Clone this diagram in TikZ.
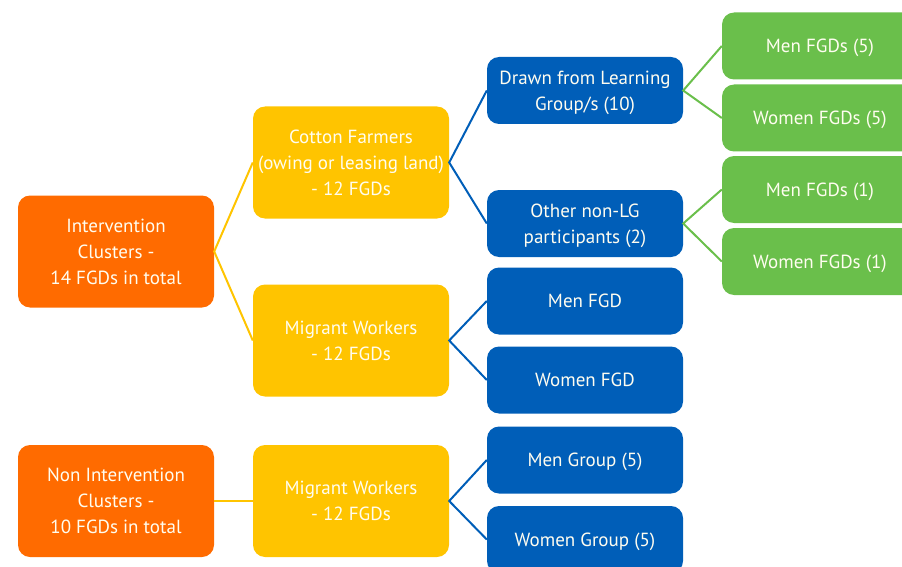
\documentclass[tikz,border=0pt]{standalone}
\usepackage{fontspec}
\setmainfont{PT Sans}
\definecolor{corange}{HTML}{FF6B00}
\definecolor{cyellow}{HTML}{FFC400}
\definecolor{cblue}{HTML}{005EB8}
\definecolor{cgreen}{HTML}{6ABF4B}
\definecolor{ctext}{HTML}{FFFDF0}
\tikzset{
  box/.style={rectangle, rounded corners=12pt, minimum width=196pt, text=ctext,
    align=center, inner sep=0pt, font=\fontsize{19}{26}\selectfont,
    text depth=-1pt},
  obox/.style={box, fill=corange, minimum height=112pt},
  ybox/.style={box, fill=cyellow, minimum height=112pt},
  bbox/.style={box, fill=cblue, minimum height=67pt},
  gbox/.style={box, fill=cgreen, minimum height=67pt},
  link/.style={line width=2pt},
}
\begin{document}
\begin{tikzpicture}[x=1pt,y=-1pt]
\useasboundingbox (0,0) rectangle (902,567);
\clip (0,0) rectangle (902,567);
\node[obox] (int) at (116,251.5) {Intervention\\Clusters -\\14 FGDs in total};
\node[obox] (nonint) at (116,501) {Non Intervention\\Clusters -\\10 FGDs in total};
\node[ybox] (cotton) at (351,162.5) {Cotton Farmers\\(owing or leasing land)\\- 12 FGDs};
\node[ybox] (mig1) at (351,340.5) {Migrant Workers\\- 12 FGDs};
\node[ybox] (mig2) at (351,501) {Migrant Workers\\- 12 FGDs};
\node[bbox] (drawn) at (585,90.5) {Drawn from Learning\\Group/s (10)};
\node[bbox] (other) at (585,223.5) {Other non-LG\\participants (2)};
\node[bbox] (menfgd) at (585,301) {Men FGD};
\node[bbox] (womenfgd) at (585,380) {Women FGD};
\node[bbox] (mengroup) at (585,460) {Men Group (5)};
\node[bbox] (womengroup) at (585,539.5) {Women Group (5)};
\node[gbox] (men5) at (820,46) {Men FGDs (5)};
\node[gbox] (women5) at (820,118) {Women FGDs (5)};
\node[gbox] (men1) at (820,189.5) {Men FGDs (1)};
\node[gbox] (women1) at (820,261.5) {Women FGDs (1)};
\draw[link, cyellow] (cotton.west) -- (int.east) -- (mig1.west);
\draw[link, cyellow] (nonint.east) -- (mig2.west);
\draw[link, cblue] (drawn.west) -- (cotton.east) -- (other.west);
\draw[link, cblue] (menfgd.west) -- (mig1.east) -- (womenfgd.west);
\draw[link, cblue] (mengroup.west) -- (mig2.east) -- (womengroup.west);
\draw[link, cgreen] (men5.west) -- (drawn.east) -- (women5.west);
\draw[link, cgreen] (men1.west) -- (other.east) -- (women1.west);
\end{tikzpicture}
\end{document}
